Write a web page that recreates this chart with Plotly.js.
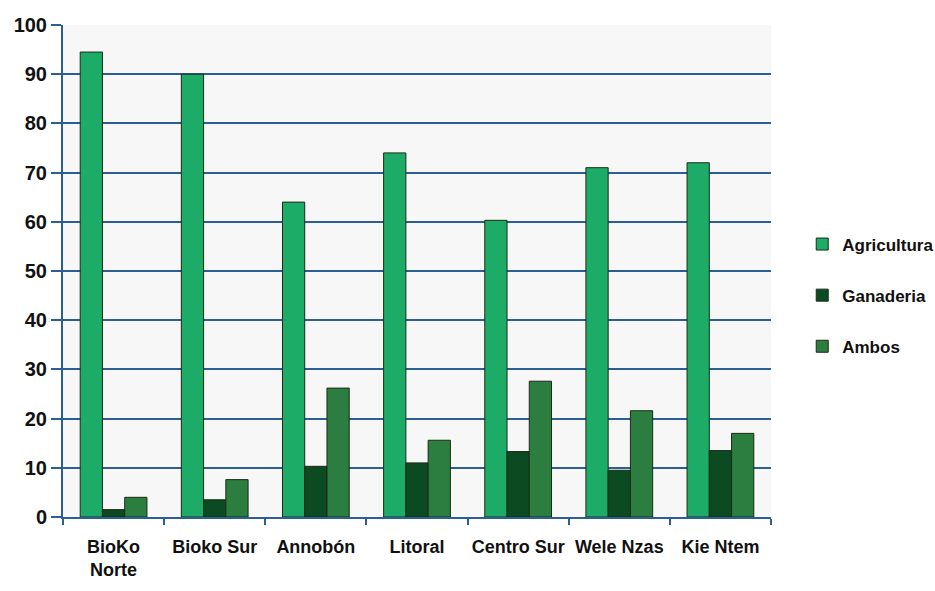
<!DOCTYPE html>
<html><head><meta charset="utf-8">
<script src="https://cdn.plot.ly/plotly-3.0.1.min.js"></script>
<style>html,body{margin:0;padding:0;background:#fff;}</style>
</head><body>
<div id="chart" style="width:935px;height:591px;"></div>
<script>
const categories = ["BioKo<br>Norte", "Bioko Sur", "Annobón", "Litoral", "Centro Sur", "Wele Nzas", "Kie Ntem"];
const agricultura = [94.5, 90, 64, 74, 60.3, 71, 72];
const ganaderia = [1.5, 3.5, 10.3, 11, 13.3, 9.5, 13.5];
const ambos = [4, 7.6, 26.2, 15.6, 27.6, 21.6, 17];
const yTicks = [0, 10, 20, 30, 40, 50, 60, 70, 80, 90, 100];

const font = {family: "Liberation Sans, Arial, sans-serif", color: "#111", weight: "bold"};
function tr(name, y, color, g) {
  return {type: "bar", name: name, x: categories, y: y, legendgroup: g,
    marker: {color: color, line: {color: "#1e2a14", width: 1}}};
}
const data = [
  tr("Agricultura", agricultura, "#1dab68", "a"),
  tr("Ganaderia", ganaderia, "#0c4a22", "b"),
  tr("Ambos", ambos, "#2b7e3f", "c")
];
const layout = {
  width: 935, height: 591,
  margin: {l: 63, r: 164, t: 25, b: 74},
  paper_bgcolor: "#ffffff", plot_bgcolor: "#f8f7f8",
  barmode: "group", bargap: 0.34, bargroupgap: 0,
  font: Object.assign({size: 17}, font),
  xaxis: {tickson: "boundaries", ticks: "outside", ticklen: 6, tickcolor: "#2a5f95", tickwidth: 2,
    tickangle: 0, automargin: false, ticklabelstandoff: 12,
    showline: true, linecolor: "#2a5f95", linewidth: 2, showgrid: false, tickfont: Object.assign({size: 18}, font)},
  yaxis: {range: [0, 100], tickvals: yTicks, ticks: "outside", ticklen: 10, tickcolor: "#2a5f95", tickwidth: 2,
    automargin: false,
    showline: true, linecolor: "#2a5f95", linewidth: 2, gridcolor: "#2a5f95", gridwidth: 2,
    zeroline: false, tickfont: Object.assign({size: 20}, font)},
  legend: {xref: "container", yref: "container", x: 0.858, y: 0.50, xanchor: "left", yanchor: "middle",
    tracegroupgap: 26, itemwidth: 30, bgcolor: "rgba(0,0,0,0)",
    font: {family: "Liberation Sans, Arial, sans-serif", color: "#111", size: 17}}
};
Plotly.newPlot("chart", data, layout, {displayModeBar: false});
</script>
</body></html>
